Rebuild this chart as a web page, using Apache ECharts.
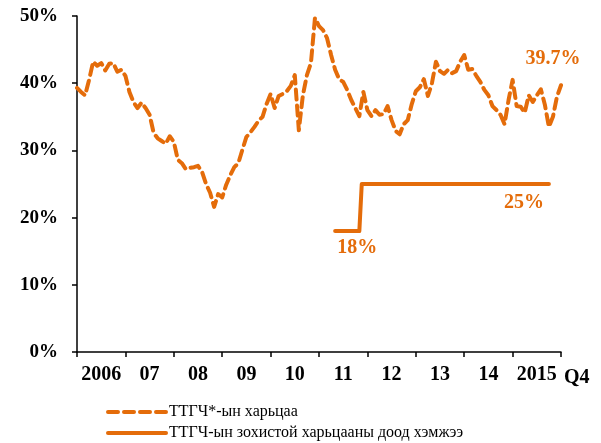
<!DOCTYPE html>
<html>
<head>
<meta charset="utf-8">
<script src="https://cdn.jsdelivr.net/npm/echarts@6/dist/echarts.min.js"></script>
<style>html,body{margin:0;padding:0;background:#fff;}#c{width:601px;height:443px;}</style>
</head>
<body>
<div id="c"></div>
<script>
// Year labels (category ticks)
var years = ['2006', '07', '08', '09', '10', '11', '12', '13', '14', '2015'];
// Monthly ratio (%), Jan 2006 .. 2015 Q4
var ratio = [39.3,38.7,38.2,40.5,43.2,42.6,43.0,41.9,42.9,43.0,41.7,42.0,
  41.1,38.7,37.2,36.3,37.1,36.3,35.3,32.6,31.8,31.4,31.0,32.1,
  31.3,28.6,28.1,27.2,27.4,27.5,27.7,26.8,25.0,23.7,21.6,23.5,
  23.0,24.9,26.3,27.5,28.1,30.1,32.0,32.7,33.5,34.4,35.0,36.9,
  38.4,36.3,38.1,38.4,38.8,39.6,41.2,33.0,38.2,41.2,43.0,49.7,
  48.5,47.9,46.7,44.2,42.0,40.6,40.2,39.0,37.5,36.3,35.1,38.7,
  36.0,35.1,36.0,35.3,35.4,36.6,34.5,32.9,32.4,33.9,34.5,36.9,
  38.8,39.4,40.6,38.1,40.0,43.2,41.8,41.4,42.0,41.5,41.8,43.2,
  44.2,42.0,42.1,41.1,40.2,39.0,38.2,36.6,36.0,35.3,33.9,37.5,
  40.5,36.6,36.5,35.6,38.2,37.2,38.2,39.1,36.8,33.5,35.0,38.0,
  39.7];
// Minimum required ratio (step)
var floorMonths = [64, 70, 70.6, 117];
var floorValues = [18, 18, 25, 25];
var seriesNames = ['ТТГЧ*-ын харьцаа', 'ТТГЧ-ын зохистой харьцааны доод хэмжээ'];
var lastLabel = '39.7%';
var floorLowLabel = '18%';
var floorHighLabel = '25%';

var ORANGE = '#E46C0A';
var FONT = '"Liberation Serif", "Times New Roman", serif';

var ratioData = ratio.map(function (v, i) { return [i, v]; });
var floorData = floorMonths.map(function (m, i) { return [m, floorValues[i]]; });
var lastIdx = ratio.length - 1;
var lastF = floorMonths.length - 1;

var labelStyle = { color: ORANGE, fontFamily: FONT, fontWeight: 'bold', fontSize: 20 };

function mp(coord, text, offset) {
  return {
    coord: coord, symbol: 'circle', symbolSize: 0,
    label: Object.assign({ show: true, formatter: text, position: 'inside', offset: offset }, labelStyle)
  };
}

var chart = echarts.init(document.getElementById('c'), null, { renderer: 'canvas' });
chart.setOption({
  animation: false,
  backgroundColor: '#fff',
  textStyle: { fontFamily: FONT },
  grid: { left: 77, right: 40, top: 16, bottom: 91, containLabel: false },
  legend: {
    orient: 'vertical', left: 106, top: 404, padding: 0,
    itemWidth: 58, itemHeight: 14, itemGap: 5,
    itemStyle: { opacity: 0, color: 'rgba(0,0,0,0)', borderWidth: 0 },
    lineStyle: { width: 4, opacity: 1 },
    textStyle: { fontFamily: FONT, fontSize: 16, color: '#000', padding: [0, 0, 0, -2] },
    data: seriesNames
  },
  xAxis: [{
    type: 'value', min: 0, max: 120, interval: 12,
    axisLine: { lineStyle: { color: '#000', width: 1.5 } },
    axisTick: { show: true, inside: false, length: 5, lineStyle: { color: '#000', width: 1.5 } },
    axisLabel: { show: false },
    splitLine: { show: false }
  }, {
    type: 'category', data: years, boundaryGap: true, position: 'bottom',
    axisLine: { show: false }, axisTick: { show: false },
    axisLabel: { interval: 0, color: '#000', fontFamily: FONT, fontWeight: 'bold', fontSize: 20, margin: 13 },
    name: 'Q4', nameLocation: 'end', nameGap: 3,
    nameTextStyle: { color: '#000', fontFamily: FONT, fontWeight: 'bold', fontSize: 20, verticalAlign: 'top', padding: [16, 0, 0, 0] }
  }],
  yAxis: {
    type: 'value', min: 0, max: 50, interval: 10,
    axisLine: { show: true, lineStyle: { color: '#000', width: 1.5 } },
    axisTick: { show: true, inside: false, length: 5, lineStyle: { color: '#000', width: 1.5 } },
    axisLabel: { formatter: '{value}%', color: '#000', fontFamily: FONT, fontWeight: 'bold', fontSize: 19, margin: 19 },
    splitLine: { show: false }
  },
  series: [{
    name: seriesNames[0], type: 'line', xAxisIndex: 0,
    data: ratioData,
    symbol: 'none',
    itemStyle: { color: ORANGE },
    lineStyle: { color: ORANGE, width: 4, type: [10, 6], cap: 'round', join: 'round' },
    markPoint: { silent: true, data: [mp(ratioData[lastIdx], lastLabel, [-8, -26])] },
    z: 3
  }, {
    name: seriesNames[1], type: 'line', xAxisIndex: 0,
    data: floorData,
    symbol: 'none',
    itemStyle: { color: ORANGE },
    lineStyle: { color: ORANGE, width: 4, type: 'solid', cap: 'round', join: 'round' },
    markPoint: { silent: true, data: [
      mp(floorData[0], floorLowLabel, [22, 17]),
      mp(floorData[lastF], floorHighLabel, [-25, 19])
    ] },
    z: 2
  }]
});
</script>
</body>
</html>
